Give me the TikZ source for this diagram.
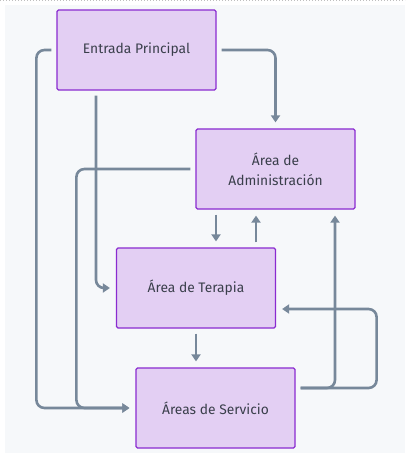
\documentclass[tikz,border=0pt]{standalone}
\usepackage{fontspec}
\setmainfont{Fira Sans}
\usetikzlibrary{arrows.meta}
\definecolor{bgpanel}{HTML}{F6F8FA}
\definecolor{nodefill}{HTML}{E3CFF3}
\definecolor{nodeedge}{HTML}{8A2BD0}
\definecolor{linkcol}{HTML}{77889A}
\definecolor{txtcol}{HTML}{3A3F4B}
\tikzset{
  box/.style={draw=nodeedge, fill=nodefill, line width=1.2pt, rounded corners=1.5pt,
    minimum width=159pt, minimum height=80pt, inner sep=0pt, align=center,
    text=txtcol, font=\fontsize{13.8}{20}\selectfont},
  link/.style={draw=linkcol, line width=2.6pt, rounded corners=8pt,
    -{Triangle[width=9pt,length=7pt]}, shorten <=5pt, shorten >=6pt}
}
\begin{document}
\begin{tikzpicture}[x=1pt,y=-1pt]
\useasboundingbox (0,0) rectangle (405,457);
\fill[bgpanel] (5,5) rectangle (405,453);
\draw[dotted, line width=1pt, gray!50] (0,1) -- (405,1);
\node[box] (entrada) at (136.5,50) {Entrada Principal};
\node[box] (admin) at (275.5,169) {Área de\\Administración};
\node[box] (terapia) at (196,288) {Área de Terapia};
\node[box] (servicio) at (215.5,408) {Áreas de Servicio};
\draw[link] (entrada.east) -| (admin.north);
\draw[link] (entrada.west) -- ++(-20,0) |- (servicio.west);
\draw[link] ([xshift=-40.5pt]entrada.south) |- (terapia.west);
\draw[link] (admin.west) -- ++(-119,0) |- (servicio.west);
\draw[link] ([xshift=-59.5pt]admin.south) -- ([xshift=20pt]terapia.north);
\draw[link] ([xshift=60pt]terapia.north) -- ([xshift=-19.5pt]admin.south);
\draw[link] (terapia.south) -- (terapia.south |- servicio.north);
\draw[link] ([yshift=20pt]servicio.east) -| ([xshift=59.5pt]admin.south);
\draw[link] ([yshift=20pt]servicio.east) -- ++(81,0) |- ([yshift=-21pt]terapia.east);
\end{tikzpicture}
\end{document}
